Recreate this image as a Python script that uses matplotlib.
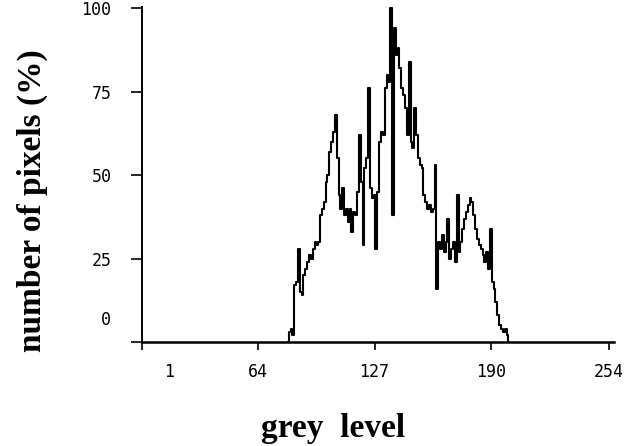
import matplotlib.pyplot as plt

# histogram of grey levels
grey_levels = list(range(80, 201))
pixel_pct = [
    0, 3, 4, 2, 17, 18, 28, 15, 14, 20,
    22, 24, 26, 25, 28, 30, 29, 30, 38, 40,
    42, 48, 50, 57, 60, 63, 68, 55, 44, 40,
    46, 38, 40, 36, 40, 33, 39, 38, 45, 62,
    48, 29, 52, 55, 76, 46, 43, 44, 28, 45,
    60, 63, 62, 76, 80, 78, 100, 38, 94, 86,
    88, 82, 76, 74, 70, 62, 84, 60, 58, 70,
    62, 55, 53, 52, 44, 42, 40, 41, 39, 40,
    53, 16, 30, 28, 32, 27, 30, 37, 25, 28,
    30, 24, 44, 27, 30, 34, 37, 39, 41, 43,
    42, 38, 34, 31, 29, 28, 26, 24, 27, 22,
    34, 18, 16, 12, 8, 5, 4, 3, 4, 2,
    0,
]

x_ticks = [1, 64, 127, 190, 254]
x_labels = ['', '64', '127', '190', '254']
y_ticks = [0, 25, 50, 75, 100]
y_labels = ['', '25', '50', '75', '100']

fig = plt.figure(figsize=(6.31, 4.46), dpi=100)
ax = fig.add_axes([0.225, 0.233, 0.748, 0.751])

ax.plot(grey_levels, pixel_pct, drawstyle='steps-mid', color='black', lw=1.5)

ax.set_xlim(1, 256.7)
ax.set_ylim(0, 100.3)
for s in ['top', 'right']:
    ax.spines[s].set_visible(False)
ax.spines['left'].set_linewidth(1.4)
ax.spines['bottom'].set_linewidth(1.8)

mono = 'DejaVu Sans Mono'
ax.set_xticks(x_ticks)
ax.set_xticklabels(x_labels, family=mono, fontsize=12)
ax.set_yticks(y_ticks)
ax.set_yticklabels(y_labels, family=mono, fontsize=12)
ax.tick_params(axis='x', direction='out', length=6, width=1.2, pad=9)
ax.tick_params(axis='y', direction='out', length=8, width=1.2, pad=14)

# the "1" and "0" labels sit off their ticks in the original
ax.text(15.6, -0.062, '1', transform=ax.get_xaxis_transform(), family=mono,
        fontsize=12, ha='center', va='top')
ax.text(-0.065, 6.5, '0', transform=ax.get_yaxis_transform(), family=mono,
        fontsize=12, ha='right', va='center')

fig.text(0.528, 0.04, 'grey  level', family='Liberation Serif', weight='bold',
         fontsize=24, ha='center', va='center')
fig.text(0.052, 0.55, 'number of pixels (%)', family='Liberation Serif',
         weight='bold', fontsize=24, rotation=90, ha='center', va='center')

fig.savefig('out.png', dpi=100)
